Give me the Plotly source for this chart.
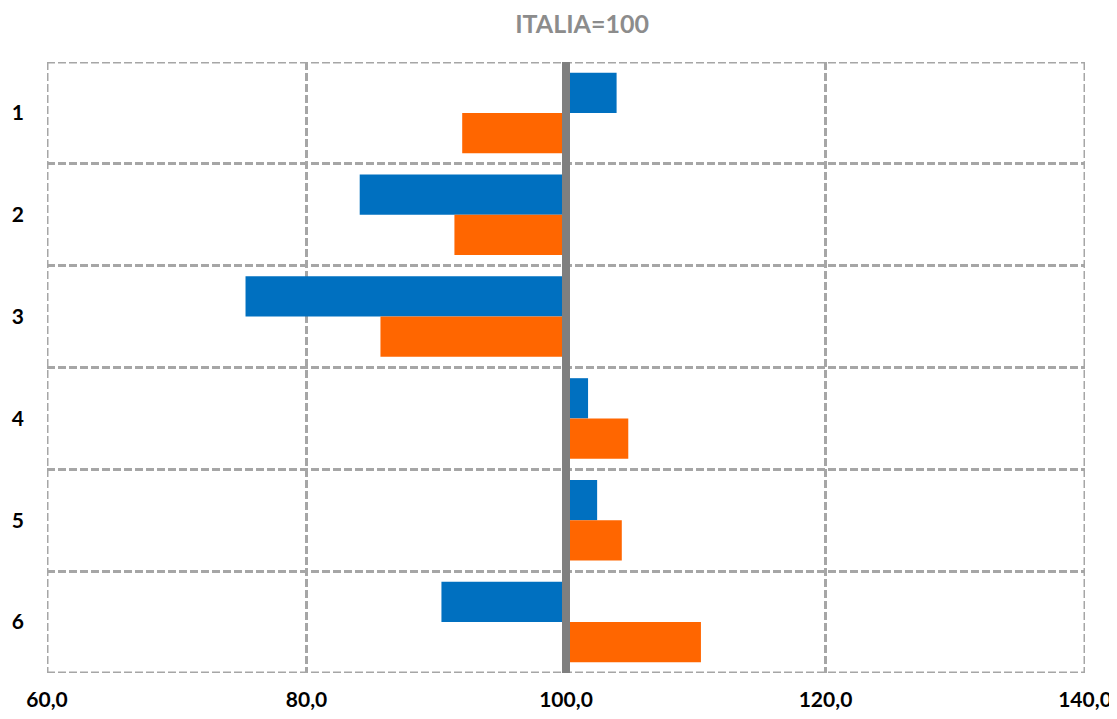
import plotly.graph_objects as go

categories = ["1", "2", "3", "4", "5", "6"]
blue_values = [103.9, 84.1, 75.3, 101.7, 102.4, 90.4]
orange_values = [92.0, 91.4, 85.7, 104.8, 104.3, 110.4]
x_ticks = [60, 80, 100, 120, 140]
x_tick_labels = ["60,0", "80,0", "100,0", "120,0", "140,0"]
reference = 100

ypos = list(range(len(categories)))
y_lo, y_hi = -0.5, len(categories) - 0.5
x_lo, x_hi = x_ticks[0], x_ticks[-1]

fig = go.Figure()
fig.add_trace(go.Bar(
    y=ypos, x=[v - reference for v in blue_values], base=reference,
    orientation="h", marker=dict(color="#0070C0", line=dict(width=0)),
    name="blue", showlegend=False,
))
fig.add_trace(go.Bar(
    y=ypos, x=[v - reference for v in orange_values], base=reference,
    orientation="h", marker=dict(color="#FF6600", line=dict(width=0)),
    name="orange", showlegend=False,
))

grid_col = "#A6A6A6"
dash = "8px,3px"
gw = 3
# outer dashed border
for (x0, x1, y0, y1) in [(x_lo, x_lo, y_lo, y_hi), (x_hi, x_hi, y_lo, y_hi),
                         (x_lo, x_hi, y_lo, y_lo), (x_lo, x_hi, y_hi, y_hi)]:
    fig.add_shape(type="line", xref="x", yref="y", x0=x0, x1=x1, y0=y0, y1=y1,
                  line=dict(color=grid_col, width=gw, dash=dash), layer="below")

fig.add_shape(type="line", xref="x", yref="y", x0=reference, x1=reference,
              y0=y_lo, y1=y_hi,
              line=dict(color="#7F7F7F", width=8), layer="above")

font_fam = "Lato, sans-serif"
fig.update_layout(
    width=1109, height=711,
    margin=dict(l=39, r=32, t=54, b=46),
    plot_bgcolor="white", paper_bgcolor="white",
    barmode="group", bargap=0.21, bargroupgap=0,
    title=dict(text="<b>ITALIA=100</b>", x=0.5176, xanchor="center", y=0.99, yanchor="top",
               font=dict(family=font_fam, size=25, color="#8C8C8C")),
    font=dict(family=font_fam, size=21, color="black"),
    xaxis=dict(range=[x_lo, x_hi], tickvals=x_ticks, ticktext=["<b>%s</b>" % t for t in x_tick_labels],
               showgrid=True, gridcolor=grid_col, gridwidth=gw, griddash=dash,
               zeroline=False, showline=False, ticks="", ticklabelstandoff=12,
               automargin=False),
    yaxis=dict(range=[y_hi, y_lo], tickvals=ypos,
               ticktext=["<b>%s</b>" % c for c in categories],
               showgrid=False, zeroline=False, showline=False, ticks="",
               ticklabelstandoff=22, automargin=False,
               minor=dict(tickvals=[i - 0.5 for i in range(len(categories) + 1)],
                          showgrid=True, gridcolor=grid_col, gridwidth=gw, griddash=dash,
                          ticks="")),
)

fig.write_html("out.html")
